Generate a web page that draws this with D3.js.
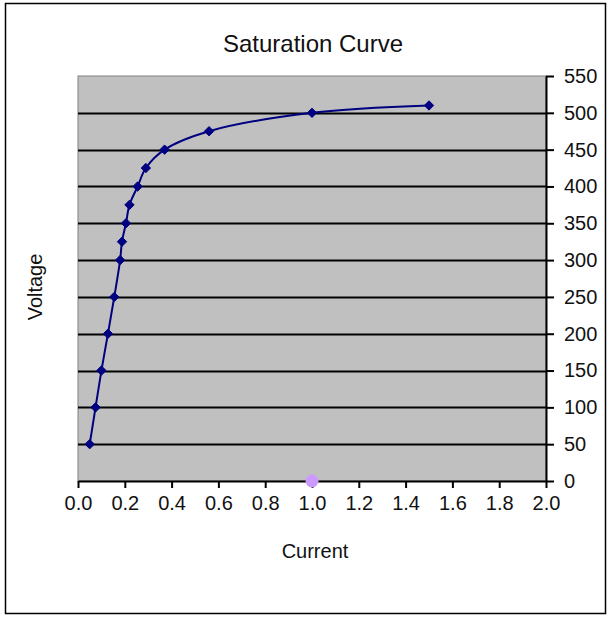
<!DOCTYPE html>
<html>
<head>
<meta charset="utf-8">
<script src="https://cdn.jsdelivr.net/npm/d3@7"></script>
<style>
  html, body { margin: 0; padding: 0; background: #fff; }
  svg { display: block; font-family: "Liberation Sans", Arial, sans-serif; }
</style>
</head>
<body>
<svg id="chart" width="609" height="618"></svg>
<script>
// Data
const current = [0.05, 0.075, 0.1, 0.128, 0.155, 0.18, 0.188, 0.205, 0.22, 0.255, 0.29, 0.37, 0.56, 1.0, 1.5];
const voltage = [50, 100, 150, 200, 250, 300, 325, 350, 375, 400, 425, 450, 475, 500, 510];
const extraX = [1.0];
const extraY = [0];
const xTicks = [0, 0.2, 0.4, 0.6, 0.8, 1.0, 1.2, 1.4, 1.6, 1.8, 2.0];
const yTicks = [0, 50, 100, 150, 200, 250, 300, 350, 400, 450, 500, 550];
const titleText = "Saturation Curve";
const xTitle = "Current";
const yTitle = "Voltage";

const svg = d3.select("#chart");
const plot = { left: 78, right: 546, top: 76, bottom: 481 };

// outer chart border
svg.append("rect").attr("x", 5.5).attr("y", 3.5).attr("width", 600).attr("height", 610)
  .attr("fill", "#fff").attr("stroke", "#000").attr("stroke-width", 1.5);

const x = d3.scaleLinear().domain([0, 2]).range([plot.left, plot.right]);
const y = d3.scaleLinear().domain([0, 550]).range([plot.bottom, plot.top]);

// plot area
svg.append("rect").attr("x", plot.left).attr("y", plot.top)
  .attr("width", plot.right - plot.left).attr("height", plot.bottom - plot.top)
  .attr("fill", "#c0c0c0").attr("stroke", "#808080").attr("stroke-width", 1);

// gridlines
svg.append("g").selectAll("line").data(yTicks.filter(v => v > 0 && v < 550)).join("line")
  .attr("x1", plot.left).attr("x2", plot.right)
  .attr("y1", d => Math.round(y(d)) + 0.5).attr("y2", d => Math.round(y(d)) + 0.5)
  .attr("stroke", "#000").attr("stroke-width", 2);

// x axis
const xAxis = d3.axisBottom(x).tickValues(xTicks).tickFormat(d3.format(".1f")).tickSizeInner(7).tickSizeOuter(0).tickPadding(8);
const gx = svg.append("g").attr("transform", `translate(0,${plot.bottom})`).call(xAxis);
gx.select(".domain").attr("stroke", "#000").attr("stroke-width", 2);
gx.selectAll(".tick line").attr("stroke", "#000").attr("stroke-width", 2);
gx.selectAll("text").attr("font-size", 20).attr("fill", "#111").attr("font-family", "Liberation Sans, Arial, sans-serif");

// y axis on the right
const yAxis = d3.axisRight(y).tickValues(yTicks).tickSizeInner(8).tickSizeOuter(0).tickPadding(10);
const gy = svg.append("g").attr("transform", `translate(${plot.right},0)`).call(yAxis);
gy.select(".domain").attr("stroke", "#000").attr("stroke-width", 2);
gy.selectAll(".tick line").attr("stroke", "#000").attr("stroke-width", 2);
gy.selectAll("text").attr("font-size", 20).attr("fill", "#111").attr("font-family", "Liberation Sans, Arial, sans-serif");

// line
const pts = current.map((c, i) => [c, voltage[i]]);
const line = d3.line().x(d => x(d[0])).y(d => y(d[1])).curve(d3.curveCatmullRom.alpha(0.5));
svg.append("path").datum(pts).attr("d", line)
  .attr("fill", "none").attr("stroke", "#000080").attr("stroke-width", 2);

// diamond markers
const sym = d3.symbol().type(d3.symbolDiamond2).size(56);
svg.append("g").selectAll("path").data(pts).join("path")
  .attr("transform", d => `translate(${x(d[0])},${y(d[1])})`)
  .attr("d", sym).attr("fill", "#000080").attr("stroke", "#000080").attr("stroke-width", 1);

// extra point
svg.append("g").selectAll("circle").data(extraX.map((v, i) => [v, extraY[i]])).join("circle")
  .attr("cx", d => x(d[0])).attr("cy", d => y(d[1])).attr("r", 6.5)
  .attr("fill", "#cc99ff");

// titles
svg.append("text").attr("x", 313).attr("y", 52).attr("text-anchor", "middle")
  .attr("font-size", 24).attr("fill", "#111").text(titleText);
svg.append("text").attr("x", 315).attr("y", 558).attr("text-anchor", "middle")
  .attr("font-size", 20).attr("fill", "#111").text(xTitle);
svg.append("text").attr("transform", "translate(42,287) rotate(-90)").attr("text-anchor", "middle")
  .attr("font-size", 20).attr("fill", "#111").text(yTitle);
</script>
</body>
</html>
